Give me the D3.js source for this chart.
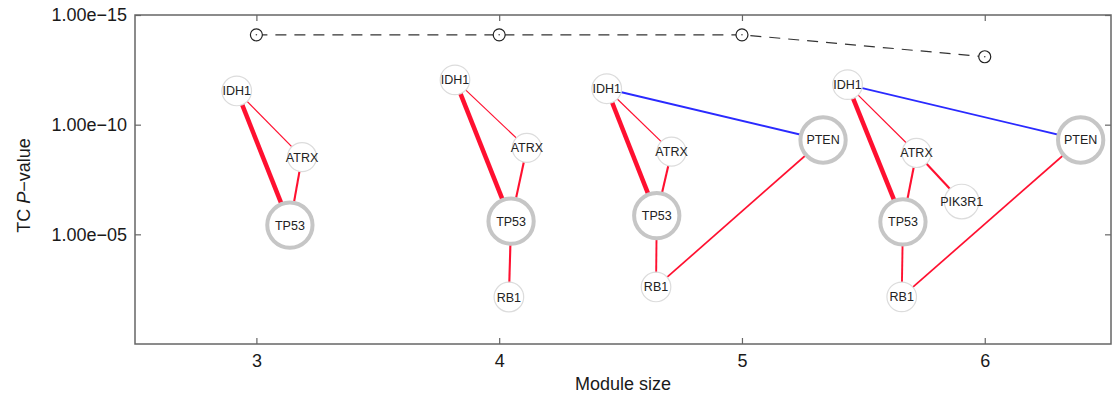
<!DOCTYPE html>
<html>
<head>
<meta charset="utf-8">
<script src="https://cdn.jsdelivr.net/npm/d3@7"></script>
<style>
  body { margin: 0; background: #fff; }
  svg { display: block; font-family: "Liberation Sans", Arial, Helvetica, sans-serif; }
</style>
</head>
<body>
<div id="chart"></div>
<script>
// module sizes and the TC p-value of the best module of each size
var moduleSizes = [3, 4, 5, 6];
var tcPValues = [8e-15, 8e-15, 8e-15, 8e-14];
var yTickValues = [1e-15, 1e-10, 1e-5];

// genes of each module, laid out in data units (module size, p-value)
var moduleGenes = [
  ["IDH1", "ATRX", "TP53"],
  ["IDH1", "ATRX", "TP53", "RB1"],
  ["IDH1", "ATRX", "TP53", "RB1", "PTEN"],
  ["IDH1", "ATRX", "PIK3R1", "TP53", "RB1", "PTEN"]
];
var geneX = [
  [2.919, 3.188, 3.138],
  [3.818, 4.114, 4.049, 4.040],
  [4.443, 4.710, 4.649, 4.646, 5.334],
  [5.435, 5.719, 5.905, 5.663, 5.658, 6.395]
];
var geneP = [
  [2.9e-12, 3.0e-9, 3.8e-6],
  [9.1e-13, 1.15e-9, 2.5e-6, 7.2e-3],
  [2.3e-12, 1.7e-9, 1.4e-6, 2.5e-3, 5.0e-10],
  [1.5e-12, 1.95e-9, 3.2e-7, 2.7e-6, 7.1e-3, 5.0e-10]
];
// relative mutation frequency of each gene (node size)
var geneFreq = { IDH1: 0.55, ATRX: 0.54, TP53: 0.88, RB1: 0.55, PTEN: 0.88, PIK3R1: 0.64 };

// edges: source, target, weight, sign (1 co-occurring, -1 exclusive)
var moduleEdges = [
  [["IDH1","TP53",0.9,1], ["IDH1","ATRX",0.24,1], ["ATRX","TP53",0.42,1]],
  [["IDH1","TP53",0.9,1], ["IDH1","ATRX",0.24,1], ["ATRX","TP53",0.42,1], ["TP53","RB1",0.42,1]],
  [["IDH1","TP53",0.9,1], ["IDH1","ATRX",0.24,1], ["ATRX","TP53",0.42,1], ["TP53","RB1",0.38,1],
   ["RB1","PTEN",0.34,1], ["IDH1","PTEN",0.38,-1]],
  [["IDH1","TP53",0.9,1], ["IDH1","ATRX",0.24,1], ["ATRX","TP53",0.42,1], ["ATRX","PIK3R1",0.42,1],
   ["TP53","RB1",0.38,1], ["RB1","PTEN",0.34,1], ["IDH1","PTEN",0.38,-1]]
];

var width = 1117, height = 398;
var margin = {top: 15, right: 6, bottom: 54, left: 135};
var pw = width - margin.left - margin.right;
var ph = height - margin.top - margin.bottom;

var x = d3.scaleLinear().domain([2.5, 6.52]).range([0, pw]);
var y = d3.scaleLog().domain([1e-15, 1]).range([0, ph]);
var rScale = d3.scaleLinear().domain([0, 1]).range([0, 28]);
var wScale = d3.scaleLinear().domain([0, 1]).range([0, 5]);
var edgeColor = d3.scaleOrdinal().domain([1, -1]).range(["#ff1030", "#2a2aff"]);

var svg = d3.select("#chart").append("svg")
  .attr("width", width).attr("height", height);
var g = svg.append("g")
  .attr("transform", "translate(" + margin.left + "," + margin.top + ")");

function fmt(d) {
  var e = Math.round(Math.log10(d));
  var s = Math.abs(e) < 10 ? "0" + Math.abs(e) : "" + Math.abs(e);
  return "1.00e" + (e < 0 ? "\u2212" : "+") + s;
}

// axes with inward ticks, mirrored like a boxed plot
var axes = [
  g.append("g").call(d3.axisLeft(y).tickValues(yTickValues).tickSize(-6).tickPadding(8).tickFormat(fmt)),
  g.append("g").attr("transform", "translate(" + pw + ",0)")
    .call(d3.axisRight(y).tickValues(yTickValues).tickSize(-6).tickFormat("")),
  g.append("g").attr("transform", "translate(0," + ph + ")")
    .call(d3.axisBottom(x).tickValues(moduleSizes).tickSize(-6).tickPadding(10).tickFormat(d3.format("d"))),
  g.append("g").call(d3.axisTop(x).tickValues(moduleSizes).tickSize(-6).tickFormat(""))
];
axes.forEach(function (a) {
  a.select(".domain").remove();
  a.selectAll(".tick line").attr("stroke", "#666").attr("stroke-width", 1.2);
  a.selectAll(".tick text").attr("fill", "#1a1a1a").style("font-size", "18px")
    .style("font-family", "'Liberation Sans', Arial, Helvetica, sans-serif");
});

g.append("rect")
  .attr("width", pw).attr("height", ph)
  .attr("fill", "none").attr("stroke", "#666").attr("stroke-width", 1.5);

// axis titles
g.append("text")
  .attr("x", pw / 2).attr("y", ph + 46)
  .attr("text-anchor", "middle").attr("fill", "#1a1a1a").style("font-size", "18px")
  .text("Module size");
var yl = svg.append("text")
  .attr("transform", "translate(30," + (margin.top + ph / 2 + 6) + ") rotate(-90)")
  .attr("text-anchor", "middle").attr("fill", "#1a1a1a").style("font-size", "18px");
yl.append("tspan").text("TC ");
yl.append("tspan").style("font-style", "italic").text("P");
yl.append("tspan").text("\u2212value");

// TC p-value line
var line = d3.line()
  .x(function (d, i) { return x(moduleSizes[i]); })
  .y(function (d) { return y(d); });
g.append("path")
  .datum(tcPValues)
  .attr("d", line)
  .attr("fill", "none").attr("stroke", "#333").attr("stroke-width", 1.2)
  .attr("stroke-dasharray", "11,8");
var mk = g.append("g").selectAll("g")
  .data(tcPValues).enter().append("g")
  .attr("transform", function (d, i) { return "translate(" + x(moduleSizes[i]) + "," + y(d) + ")"; });
mk.append("circle").attr("r", 6).attr("fill", "#fff").attr("stroke", "#222").attr("stroke-width", 1.2);
mk.append("circle").attr("r", 0.8).attr("fill", "#444");

// module networks
moduleGenes.forEach(function (genes, m) {
  var pos = {};
  genes.forEach(function (gn, i) { pos[gn] = [x(geneX[m][i]), y(geneP[m][i])]; });
  var grp = g.append("g");
  grp.selectAll("line")
    .data(moduleEdges[m]).enter().append("line")
    .attr("x1", function (d) { return pos[d[0]][0]; })
    .attr("y1", function (d) { return pos[d[0]][1]; })
    .attr("x2", function (d) { return pos[d[1]][0]; })
    .attr("y2", function (d) { return pos[d[1]][1]; })
    .attr("stroke", function (d) { return edgeColor(d[3]); })
    .attr("stroke-width", function (d) { return wScale(d[2]); });
  var node = grp.selectAll("g.node")
    .data(genes).enter().append("g").attr("class", "node")
    .attr("transform", function (d) { return "translate(" + pos[d][0] + "," + pos[d][1] + ")"; });
  node.append("circle")
    .attr("r", function (d) {
      var sw = geneFreq[d] > 0.7 ? 4 : 1.2;
      return rScale(geneFreq[d]) - sw / 2;
    })
    .attr("fill", "#fff")
    .attr("stroke", function (d) { return geneFreq[d] > 0.7 ? "#c6c6c6" : "#dcdcdc"; })
    .attr("stroke-width", function (d) { return geneFreq[d] > 0.7 ? 4 : 1.2; });
  node.append("text")
    .attr("text-anchor", "middle").attr("dy", "0.36em")
    .attr("fill", "#222").style("font-size", "12.5px")
    .text(function (d) { return d; });
});
</script>
</body>
</html>
